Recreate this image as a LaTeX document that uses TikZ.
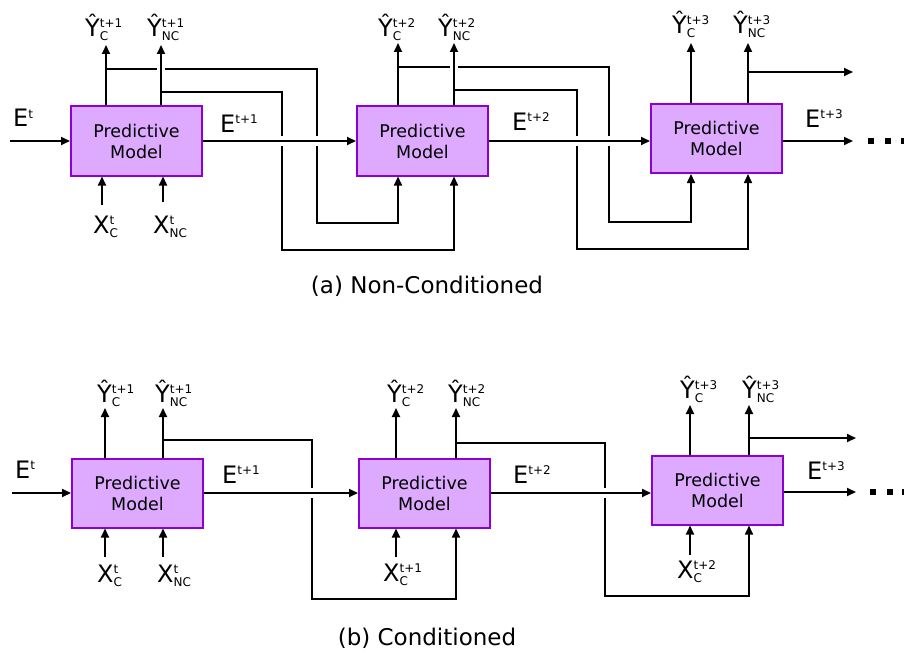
\documentclass[tikz,border=0pt]{standalone}
\usepackage{fontspec}
\setmainfont{DejaVu Sans}
\usetikzlibrary{arrows.meta}
\definecolor{pmfill}{RGB}{221,170,255}
\definecolor{pmdraw}{RGB}{140,0,210}
\newcommand\scfont{\fontsize{12}{12}\selectfont}
\newcommand\SupSub[3]{#1\sbox0{\scfont #2}\sbox2{\scfont #3}\rlap{\raisebox{9pt}{\usebox0}}\rlap{\raisebox{-4pt}{\usebox2}}\hskip\ifdim\wd0>\wd2 \wd0\else\wd2\fi\relax}
\newcommand\SupOnly[2]{#1\raisebox{9pt}{\scfont #2}}
\begin{document}
\begin{tikzpicture}[x=1pt,y=-1pt,
  pm/.style={draw=pmdraw, fill=pmfill, line width=2pt, minimum width=131pt, minimum height=69pt,
    align=center, inner sep=0pt, font=\fontsize{17.5}{21}\selectfont},
  lbl/.style={inner sep=0pt, anchor=base west, font=\fontsize{24}{24}\selectfont},
  captxt/.style={inner sep=0pt, anchor=base, font=\fontsize{23}{23}\selectfont},
  arr/.style={-{Triangle[length=9pt,width=8pt]}, line width=1.8pt},
  fbarr/.style={-{Triangle[length=9pt,width=8pt]}, line width=1.6pt},
  gap/.style={fill=white, draw=none},
  dot/.style={fill=black, draw=none}]
\useasboundingbox (0,0) rectangle (904,658);

% ================= (a) Non-Conditioned =================
\node[pm] (b1) at (136.5,141) {Predictive\\Model};
\node[pm] (b2) at (422.5,141) {Predictive\\Model};
\node[pm] (b3) at (716.5,138.5) {Predictive\\Model};

\coordinate (o1c) at (106,45);  \coordinate (o1n) at (161,45);
\coordinate (o2c) at (398,43);  \coordinate (o2n) at (454,43);
\coordinate (o3c) at (691,43);  \coordinate (o3n) at (748,43);
\coordinate (i1c) at (102,205); \coordinate (i1n) at (163,202);
\coordinate (e0s) at (10,141);  \coordinate (e3e) at (853,141);
\coordinate (out3) at (853,72);

% feedback lines
\draw[fbarr] (o1c |- 0,69) -- (317,69) -- (317,223) -| (b2.south -| o2c);
\draw[fbarr] (o1n |- 0,92) -- (282,92) -- (282,250) -| (b2.south -| o2n);
\draw[fbarr] (o2c |- 0,67) -- (609,67) -- (609,222) -| (b3.south -| o3c);
\draw[fbarr] (o2n |- 0,90) -- (577,90) -- (577,249) -| (b3.south -| o3n);
% crossing gaps
\fill[gap] (157,65.5) rectangle (165,72.5);
\fill[gap] (450,63.5) rectangle (458,70.5);
\foreach \gx in {282,317,577,609} {\fill[gap] (\gx-3,136) rectangle (\gx+3,146);}

% main arrows
\draw[arr] (e0s) -- (b1.west);
\draw[arr] (b1.east) -- (b2.west);
\draw[arr] (b2.east) -- (b2.east -| b3.west);
\draw[arr] (b3.east |- e3e) -- (e3e);
\draw[arr] (b1.north -| o1c) -- (o1c);
\draw[arr] (b1.north -| o1n) -- (o1n);
\draw[arr] (b2.north -| o2c) -- (o2c);
\draw[arr] (b2.north -| o2n) -- (o2n);
\draw[arr] (b3.north -| o3c) -- (o3c);
\draw[arr] (b3.north -| o3n) -- (o3n);
\draw[arr] (o3n |- out3) -- (out3);
\draw[arr] (i1c) -- (b1.south -| i1c);
\draw[arr] (i1n) -- (b1.south -| i1n);

% labels
\node[lbl] (yc1) at (85,37) {\SupSub{Ŷ}{t+1}{C}};
\node[lbl] (yn1) at (147,37) {\SupSub{Ŷ}{t+1}{NC}};
\node[lbl] (yc2) at (378,37) {\SupSub{Ŷ}{t+2}{C}};
\node[lbl] (yn2) at (438,37) {\SupSub{Ŷ}{t+2}{NC}};
\node[lbl] (yc3) at (672,34) {\SupSub{Ŷ}{t+3}{C}};
\node[lbl] (yn3) at (733,34) {\SupSub{Ŷ}{t+3}{NC}};
\node[lbl] (xc1) at (93,233) {\SupSub{X}{t}{C}};
\node[lbl] (xn1) at (153,233) {\SupSub{X}{t}{NC}};
\node[lbl] (e0) at (13,127) {\SupOnly{E}{t}};
\node[lbl] (e1) at (220,132) {\SupOnly{E}{t+1}};
\node[lbl] (e2) at (512,130) {\SupOnly{E}{t+2}};
\node[lbl] (e3) at (805,128) {\SupOnly{E}{t+3}};
\foreach \dx in {868,885,901} {\fill[dot] (\dx,138) rectangle ++(6,6);}

\node[captxt] (capa) at (427,293) {(a) Non-Conditioned};

% ================= (b) Conditioned =================
\node[pm] (b4) at (137.5,493) {Predictive\\Model};
\node[pm] (b5) at (424.5,493) {Predictive\\Model};
\node[pm] (b6) at (717.5,490) {Predictive\\Model};

\coordinate (o4c) at (105,408); \coordinate (o4n) at (163,408);
\coordinate (o5c) at (396,408); \coordinate (o5n) at (456,408);
\coordinate (o6c) at (690,405); \coordinate (o6n) at (749,405);
\coordinate (i4c) at (105,557); \coordinate (i4n) at (163,557);
\coordinate (i5c) at (396,557); \coordinate (i6c) at (690,555);
\coordinate (e4s) at (12,493);  \coordinate (e6e) at (856,492);
\coordinate (out6) at (856,438);

\draw[fbarr] (o4n |- 0,440) -- (312,440) -- (312,599) -| (b5.south -| o5n);
\draw[fbarr] (o5n |- 0,443) -- (605,443) -- (605,596) -| (b6.south -| o6n);
\foreach \gx in {312,605} {\fill[gap] (\gx-3,488) rectangle (\gx+3,498);}

\draw[arr] (e4s) -- (b4.west);
\draw[arr] (b4.east) -- (b5.west);
\draw[arr] (b5.east) -- (b5.east -| b6.west);
\draw[arr] (b6.east |- e6e) -- (e6e);
\draw[arr] (b4.north -| o4c) -- (o4c);
\draw[arr] (b4.north -| o4n) -- (o4n);
\draw[arr] (b5.north -| o5c) -- (o5c);
\draw[arr] (b5.north -| o5n) -- (o5n);
\draw[arr] (b6.north -| o6c) -- (o6c);
\draw[arr] (b6.north -| o6n) -- (o6n);
\draw[arr] (o6n |- out6) -- (out6);
\draw[arr] (i4c) -- (b4.south -| i4c);
\draw[arr] (i4n) -- (b4.south -| i4n);
\draw[arr] (i5c) -- (b5.south -| i5c);
\draw[arr] (i6c) -- (b6.south -| i6c);

\node[lbl] (yc4) at (97,402) {\SupSub{Ŷ}{t+1}{C}};
\node[lbl] (yn4) at (155,402) {\SupSub{Ŷ}{t+1}{NC}};
\node[lbl] (yc5) at (387,402) {\SupSub{Ŷ}{t+2}{C}};
\node[lbl] (yn5) at (448,402) {\SupSub{Ŷ}{t+2}{NC}};
\node[lbl] (yc6) at (680,398) {\SupSub{Ŷ}{t+3}{C}};
\node[lbl] (yn6) at (742,398) {\SupSub{Ŷ}{t+3}{NC}};
\node[lbl] (xc4) at (97,582) {\SupSub{X}{t}{C}};
\node[lbl] (xn4) at (157,582) {\SupSub{X}{t}{NC}};
\node[lbl] (xc5) at (383,581) {\SupSub{X}{t+1}{C}};
\node[lbl] (xc6) at (677,578) {\SupSub{X}{t+2}{C}};
\node[lbl] (e4) at (15,478) {\SupOnly{E}{t}};
\node[lbl] (e5) at (222,483) {\SupOnly{E}{t+1}};
\node[lbl] (e6) at (513,483) {\SupOnly{E}{t+2}};
\node[lbl] (e7) at (807,479) {\SupOnly{E}{t+3}};
\foreach \dx in {870,887,902} {\fill[dot] (\dx,489) rectangle ++(6,6);}

\node[captxt] (capb) at (427,645) {(b) Conditioned};
\end{tikzpicture}
\end{document}
